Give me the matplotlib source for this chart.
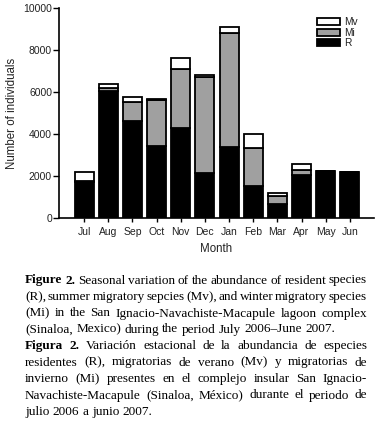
import matplotlib
matplotlib.use("Agg")
import matplotlib.pyplot as plt
import numpy as np
from matplotlib.transforms import IdentityTransform

months = ["Jul", "Aug", "Sep", "Oct", "Nov", "Dec", "Jan", "Feb", "Mar", "Apr", "May", "Jun"]
R = [1750, 6050, 4630, 3450, 4300, 2160, 3400, 1540, 680, 2080, 2250, 2200]
Mi = [50, 170, 920, 2200, 2800, 4550, 5410, 1810, 370, 210, 0, 0]
Mv = [390, 160, 240, 50, 520, 100, 290, 650, 150, 300, 0, 0]
yticks = [0, 2000, 4000, 6000, 8000, 10000]

caption_lines = [
    ("Figure 2. Seasonal variation of the abundance of resident species", 2, False),
    ("(R), summer migratory sepcies (Mv), and winter migratory species", 0, False),
    ("(Mi) in the San Ignacio-Navachiste-Macapule lagoon complex", 0, False),
    ("(Sinaloa, Mexico) during the period July 2006\u2013June 2007.", 0, True),
    ("Figura 2. Variaci\u00f3n estacional de la abundancia de especies", 2, False),
    ("residentes (R), migratorias de verano (Mv) y migratorias de", 0, False),
    ("invierno (Mi) presentes en el complejo insular San Ignacio-", 0, False),
    ("Navachiste-Macapule (Sinaloa, M\u00e9xico) durante el periodo de", 0, False),
    ("julio 2006 a junio 2007.", 0, True),
]

W, H = 380, 428
fig = plt.figure(figsize=(W / 100, H / 100), dpi=100)
ax = fig.add_axes([59 / W, (H - 218.3) / H, (374 - 59) / W, 210 / H])

x = np.arange(len(months))
R_a, Mi_a, Mv_a = np.array(R), np.array(Mi), np.array(Mv)
lw = 1.3
bw = 0.79
ax.bar(x, R_a, width=bw, color="black", edgecolor="black", linewidth=lw, label="R")
ax.bar(x, Mi_a, bottom=R_a, width=bw, color="#a0a0a0", edgecolor="black", linewidth=lw, label="Mi")
ax.bar(x, Mv_a, bottom=R_a + Mi_a, width=bw, color="white", edgecolor="black", linewidth=lw, label="Mv")

ax.set_xlim(-1.04, 11.0 + 1.0)
ax.set_ylim(0, 10000)
ax.set_yticks(yticks)
ax.set_yticklabels([str(v) for v in yticks])
ax.set_xticks(x)
ax.set_xticklabels(months)
for s in ["top", "right"]:
    ax.spines[s].set_visible(False)
for s in ["left", "bottom"]:
    ax.spines[s].set_linewidth(1.2)
ax.tick_params(axis="y", length=4, width=1, pad=1, labelsize=7.5, labelcolor="#222222")
ax.tick_params(axis="x", length=3, width=1, pad=3.5, labelsize=7.5, labelcolor="#222222")
for lab in ax.get_xticklabels() + ax.get_yticklabels():
    lab.set_family("Liberation Sans")
ax.set_xlabel("Month", fontsize=8.3, family="Liberation Sans", color="#222222", labelpad=4)
ax.set_ylabel("Number of individuals", fontsize=8.3, family="Liberation Sans", color="#222222", labelpad=3.5)

handles, labels = ax.get_legend_handles_labels()
leg = ax.legend(handles[::-1], labels[::-1], loc="upper left", bbox_to_anchor=(0.819, 0.958),
                frameon=False, handlelength=2.26, handleheight=0.67,
                labelspacing=0.05, handletextpad=0.4, borderpad=0, borderaxespad=0,
                prop={"family": "Liberation Sans", "size": 7.3})
for t in leg.get_texts():
    t.set_color("#222222")

# Justified caption
renderer = fig.canvas.get_renderer()
serif = "Liberation Serif"
left_px, right_px = 25, 367
probe = fig.text(0, 0, caption_lines[3][0], family=serif, fontsize=10, transform=IdentityTransform())
pw = probe.get_window_extent(renderer).width
probe.remove()
fsize = 10 * 310 / pw

centers = [279, 295.5, 312, 328, 344.5, 361, 377.5, 394, 410.5]
for (line, nbold, last), cy in zip(caption_lines, centers):
    words = line.split(" ")
    objs = []
    for i, wd in enumerate(words):
        t = fig.text(0, H - cy, wd, family=serif, fontsize=fsize,
                     fontweight="bold" if i < nbold else "normal",
                     va="center_baseline", ha="left", transform=IdentityTransform(), color="black")
        objs.append(t)
    widths = [o.get_window_extent(renderer).width for o in objs]
    sp = fig.text(0, 0, "a b", family=serif, fontsize=fsize, transform=IdentityTransform())
    sa = fig.text(0, 0, "ab", family=serif, fontsize=fsize, transform=IdentityTransform())
    space_w = sp.get_window_extent(renderer).width - sa.get_window_extent(renderer).width
    sp.remove(); sa.remove()
    if last or len(words) == 1:
        gap = space_w
    else:
        gap = (right_px - left_px - sum(widths)) / (len(words) - 1)
    xpos = left_px
    for o, wdt in zip(objs, widths):
        o.set_position((xpos, H - cy))
        xpos += wdt + gap

fig.savefig("out.png", dpi=100)
